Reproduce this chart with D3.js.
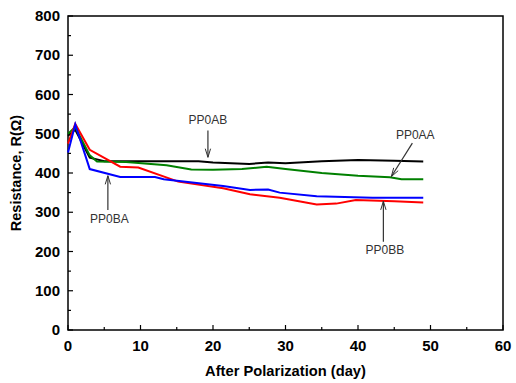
<!DOCTYPE html>
<html><head><meta charset="utf-8">
<script src="https://cdn.jsdelivr.net/npm/d3@7"></script>
<style>body{margin:0;background:#fff}svg{display:block}</style>
</head><body>
<script>
const xTicks = [0,10,20,30,40,50,60];
const yTicks = [0,100,200,300,400,500,600,700,800];
const daysAB = [0,1,3,5,10,15,18,20,25,27.6,30,35,40,45,49];
const valsAB = [495,510,439,430,430,430,430,427,423,427,425,430,433,431,429];
const daysAA = [0,1,3,4,8,13.6,17,20,24,27.4,30,35,40,44.4,46,49];
const valsAA = [500,517,445,429,428,420,409,408,410,416,410,400,393,389,384,384];
const daysBB = [0,1,3,7.2,9.7,15.2,21.4,25.1,29.2,34.3,37,39.7,45,49];
const valsBB = [475,525,459,416,414,378,361,346,337,320,322,331,328,325];
const daysBA = [0,1,3,7.2,12,13.2,21.4,25.1,27.6,29.2,34.3,42,49];
const valsBA = [452,524,410,390,390,384,367,357,358,350,341,337,337];
const series = [
  {name:"PP0AB", days:daysAB, vals:valsAB, color:"#000000"},
  {name:"PP0AA", days:daysAA, vals:valsAA, color:"#008000"},
  {name:"PP0BB", days:daysBB, vals:valsBB, color:"#ff0000"},
  {name:"PP0BA", days:daysBA, vals:valsBA, color:"#0000ff"}
];
// annotations: label, label position (data), arrow from/to (data)
const annotations = [
  {label:"PP0AB", lx:19.3, ly:525, x1:19.3, y1:508, x2:19.3, y2:440},
  {label:"PP0AA", lx:47.9, ly:487, x1:47.5, y1:476, x2:44.6, y2:391},
  {label:"PP0BA", lx:5.7, ly:273, x1:5.5, y1:306, x2:5.5, y2:393},
  {label:"PP0BB", lx:43.7, ly:194, x1:43.5, y1:225, x2:43.5, y2:328}
];

const W=516,H=383, m={l:68,t:16,r:13,b:53};
const svg=d3.select("body").append("svg").attr("width",W).attr("height",H);
const x=d3.scaleLinear().domain([0,60]).range([m.l,W-m.r]);
const y=d3.scaleLinear().domain([0,800]).range([H-m.b,m.t]);

// frame
svg.append("rect").attr("x",x(0)).attr("y",y(800)).attr("width",x(60)-x(0)).attr("height",y(0)-y(800))
  .attr("fill","none").attr("stroke","#000").attr("stroke-width",1.5);

// ticks inward
const gx=svg.append("g");
d3.range(0,61,5).forEach(d=>{
  gx.append("line").attr("x1",x(d)).attr("x2",x(d)).attr("y1",y(0)).attr("y2",y(0)-(d%10===0?5:3)).attr("stroke","#000").attr("stroke-width",1.2);
});
d3.range(0,801,50).forEach(d=>{
  gx.append("line").attr("x1",x(0)).attr("x2",x(0)+(d%100===0?5:3)).attr("y1",y(d)).attr("y2",y(d)).attr("stroke","#000").attr("stroke-width",1.2);
});
const font="Liberation Sans, Arial, sans-serif";
xTicks.forEach(d=>{
  svg.append("text").attr("x",x(d)).attr("y",y(0)+21).attr("text-anchor","middle")
    .attr("font-family",font).attr("font-weight","bold").attr("font-size",15).text(d);
});
yTicks.forEach(d=>{
  svg.append("text").attr("x",x(0)-8).attr("y",y(d)+5).attr("text-anchor","end")
    .attr("font-family",font).attr("font-weight","bold").attr("font-size",15).text(d);
});
svg.append("text").attr("x",(x(0)+x(60))/2).attr("y",H-7).attr("text-anchor","middle")
  .attr("font-family",font).attr("font-weight","bold").attr("font-size",14.7).text("After Polarization (day)");
svg.append("text").attr("transform",`translate(21,${(y(0)+y(800))/2}) rotate(-90)`).attr("text-anchor","middle")
  .attr("font-family",font).attr("font-weight","bold").attr("font-size",14.5).text("Resistance, R(Ω)");

const line=d3.line().x(d=>x(d[0])).y(d=>y(d[1]));
series.forEach(s=>{
  svg.append("path").datum(s.days.map((d,i)=>[d,s.vals[i]])).attr("d",line)
    .attr("fill","none").attr("stroke",s.color).attr("stroke-width",2);
});

annotations.forEach(a=>{
  const X1=x(a.x1),Y1=y(a.y1),X2=x(a.x2),Y2=y(a.y2);
  svg.append("line").attr("x1",X1).attr("y1",Y1).attr("x2",X2).attr("y2",Y2).attr("stroke","#333").attr("stroke-width",1.2);
  const ang=Math.atan2(Y2-Y1,X2-X1), L=9, sp=0.3;
  [ang+Math.PI-sp, ang+Math.PI+sp].forEach(t=>{
    svg.append("line").attr("x1",X2).attr("y1",Y2).attr("x2",X2+L*Math.cos(t)).attr("y2",Y2+L*Math.sin(t)).attr("stroke","#333").attr("stroke-width",1);
  });
  svg.append("text").attr("x",x(a.lx)).attr("y",y(a.ly)).attr("text-anchor","middle")
    .attr("font-family",font).attr("font-size",12).attr("fill","#333").text(a.label);
});
</script>
</body></html>
